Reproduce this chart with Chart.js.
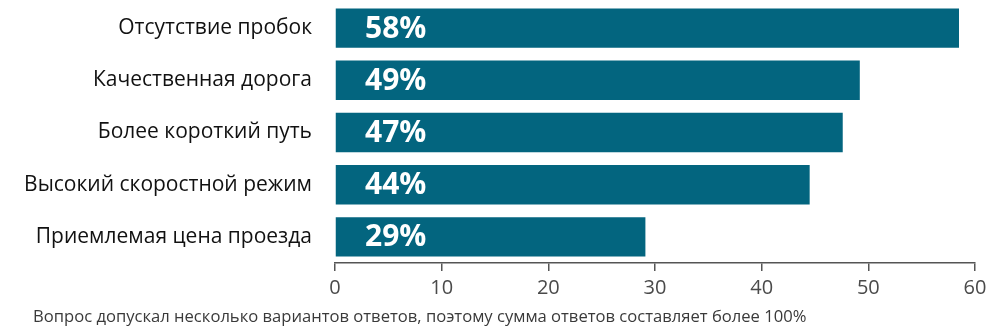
<!DOCTYPE html>
<html>
<head>
<meta charset="utf-8">
<script src="https://cdn.jsdelivr.net/npm/chart.js@4"></script>
<style>
  html, body { margin: 0; padding: 0; background: #fff; }
  #wrap { position: relative; width: 999px; height: 336px; }
</style>
</head>
<body>
<div id="wrap"><canvas id="barChart" width="999" height="336"></canvas></div>
<script>
const categories = [
    'Отсутствие пробок',
    'Качественная дорога',
    'Более короткий путь',
    'Высокий скоростной режим',
    'Приемлемая цена проезда'
];
const shares = [58.5, 49.2, 47.6, 44.5, 29.1];   // bar lengths as drawn
const shareLabels = ['58%', '49%', '47%', '44%', '29%'];
const footnote = 'Вопрос допускал несколько вариантов ответов, поэтому сумма ответов составляет более 100%';

const FONT = '"Open Sans", "Noto Sans", sans-serif';

// white percentage text inside each bar
const valueLabels = {
    id: 'valueLabels',
    afterDatasetsDraw(chart) {
        const ctx = chart.ctx;
        const x0 = chart.scales.x.getPixelForValue(0);
        ctx.save();
        ctx.fillStyle = '#ffffff';
        ctx.font = 'bold 30px ' + FONT;
        ctx.textAlign = 'left';
        ctx.textBaseline = 'middle';
        chart.getDatasetMeta(0).data.forEach((bar, i) => {
            ctx.fillText(shareLabels[i], x0 + 30, bar.y + 1);
        });
        ctx.restore();
    }
};

// note under the axis
const footnotePlugin = {
    id: 'footnote',
    afterDraw(chart) {
        const ctx = chart.ctx;
        ctx.save();
        ctx.fillStyle = '#3a3a3a';
        ctx.font = '16.6px ' + FONT;
        ctx.textAlign = 'left';
        ctx.textBaseline = 'middle';
        ctx.fillText(footnote, 33, 317);
        ctx.restore();
    }
};

new Chart(document.getElementById('barChart').getContext('2d'), {
    type: 'bar',
    data: {
        labels: categories,
        datasets: [{
            data: shares,
            backgroundColor: '#03657f',
            borderWidth: 0,
            barPercentage: 0.755,
            categoryPercentage: 1
        }]
    },
    options: {
        indexAxis: 'y',
        responsive: false,
        animation: false,
        layout: {
            padding: { top: 2, right: 24, left: 0, bottom: 0 }
        },
        plugins: {
            legend: { display: false },
            tooltip: { enabled: false }
        },
        scales: {
            x: {
                min: 0,
                max: 60,
                ticks: {
                    stepSize: 10,
                    color: '#4a4a4a',
                    font: { family: FONT, size: 20 },
                    padding: 5
                },
                grid: {
                    drawOnChartArea: false,
                    drawTicks: true,
                    tickLength: 8,
                    color: '#555555',
                    lineWidth: 1.5
                },
                border: { display: true, color: '#555555', width: 1.5 },
                afterFit(scale) { scale.height = 73; }
            },
            y: {
                ticks: {
                    color: '#111111',
                    font: { family: FONT, size: 21 },
                    padding: 23
                },
                grid: { display: false, drawTicks: false },
                border: { display: false },
                afterFit(scale) {
                    scale.width = 335;
                    scale.paddingTop = 0;
                    scale.paddingBottom = 0;
                }
            }
        }
    },
    plugins: [valueLabels, footnotePlugin]
});
</script>
</body>
</html>
